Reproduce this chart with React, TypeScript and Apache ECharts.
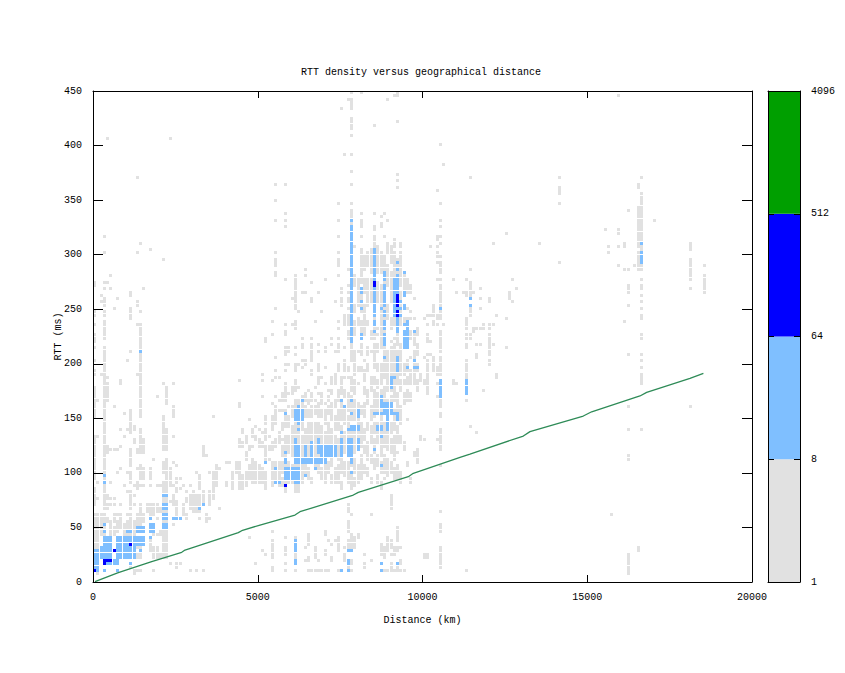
import React, { useEffect, useRef } from "react";
import * as echarts from "echarts";

const BIN_KM = 100;
const BIN_MS = 3;
const xTicks = [0, 5000, 10000, 15000, 20000];
const yTicks = [0, 50, 100, 150, 200, 250, 300, 350, 400, 450];
const barLabels = [1, 8, 64, 512, 4096];
const colors = { gray: "#e1e1e1", light: "#7fbfff", deep: "#0000ff", green: "#009f00", line: "#2e8b57" };

// [distance bin, "rtt bin spans"]
const grayCols: [number, string][] = [
  [0, "3-20 23-28 31-38 39-44 50-59 63-64 67 71 73-75 78 81-82 90-91"],[1, "2 5-20 25 30 44 55"],[2, "14-20 63 85 87"],
  [3, "8-20 22-26 27-29 31-35 36-44 45-46 47-49 50-62 63-66 67-71 74-79 81-82 84-86 89 91 100 105"],[4, "8-13 18-19 22-23 25-26 39-41 55-60 62 91 135"],[5, "10-17 18 23 25 30 40 89 93"],
  [6, "14-16 18-20 23 25 40 53 83"],[7, "15-18 20 33 40 86"],[8, "16-20 23 34 41 46 60-61"],[9, "14-17 29 44 51"],
  [10, "14-18 20 27 33 46 67"],[11, "4 14-20 22-27 30-33 35-40 45-46 47-52 70 80-83 87-88"],[12, "2-3 14-18 23 26 29 42-43 46-47"],
  [13, "3 7-8 10-12 17-20 28-30 34 39-40 63 78 84-85 100 123"],[14, "3 7-10 17-20 21-23 29 31-35 39-46 50-62 63-65 66-70 71-77 78 82 103"],
  [15, "18-20 29 31-34 39-43 89"],[16, "21-23"],[17, "9-13 15 20-23 29 31-34 101"],[18, "3 7-10 14 20 21-23 37"],
  [19, "7-10 14 19 21-23 29 56"],[20, "7-8 14-15 21-22 29"],[21, "7-30 33-36 40-50 60 98"],[22, "7-37 40-46 54-59"],[23, "5 24 29-34 135"],
  [24, "17 23-26 29 36 44 50-53 60"],[25, "4-5 20-24 27-28 30-31 35"],[26, "5 28 31"],[27, "20-23 29"],[28, "19-20 24-25 27"],[29, "3 22-26 29"],
  [30, "21-27"],[31, "3 21-26 33"],[32, "19 21-26 28-32"],[33, "3 23-27 38-41"],[34, "18-20 38"],[35, "19 23-27 33"],[36, "25-28 29-33 50"],
  [37, "29-35"],[38, "22 34"],[40, "29-30 36"],[41, "36"],[42, "28-33"],[43, "33-36"],[44, "28-29 30-36 41-43 53-54 61"],[45, "28-32 41-42 45-46"],
  [46, "29-33 37-39 42-44"],[47, "13 31-35 40-41 49"],[48, "30-37 41 44-46"],[49, "5 30-36 43-44 47"],[50, "30-35 41-43 46"],[51, "9 30-34 41-42 45 56 61 63"],
  [52, "8 28-33 37-41 43-46 48-50 73 74"],[53, "37 40-41 44"],[54, "3-4 7-12 15 29-36 40-42 46-50 54 61 75 79"],[55, "31-36 41-43 48-53 56 62 64 68 83 93-94 96-98 100 110 116 121"],
  [56, "29-36 42-45 52 55 62"],[57, "29-31 33-36 38-41 43 46-48 52 55-57"],[58, "3 5 8-10 13 27-44 47-52 55-60 64 66 69-71 75-76 78 92 108 110 112 121"],
  [59, "30-36 39-44 47-50 53 57 66 70 71"],[60, "30-35 38-47 50-53 57-59 78 86"],[61, "3 5-13 27-55 58-61 64-66 69 71 77-79 83 84-86 87-93"],[62, "27-37 39-47 49-55 59 66 82"],[63, "30-36 38-44 46-48 50-54 56 65 67 71-72 74 88"],
  [64, "6 10 32-46 50-53 55-57 66-67 88 93 95"],[65, "3 6-7 11-14 31-34 36-48 50-52 54-55 58"],[66, "3 30-31 36-48 50-53 55-57 63-64 67-69 70-72 74 85-86 91"],[67, "3 7-10 34-48 51-53 55 59 79"],[68, "3 6 33-36 38-48 50-54 57 60-62 64-66 70 72 88"],
  [69, "3 31-34 36-47 50-52 54-57 62 82"],[70, "3 8-9 14-15 30-35 38-45 48-52 54 60 65 70 71 92"],[71, "3 12 33-36 38-48 51-53 55-56 58"],[72, "6-7 11 30-32 35-37 39-46 49-54 57-58 60-62 72 74"],
  [73, "12 30-34 38-44 46-50 53-55 60-62 63 70 85"],[74, "3 9-13 30-35 37-43 46-52 55-58 64-66 70 71-72 74 77 79 93 96-98 100 105 110 115"],[75, "3 28-30 33-37 38-47 49-54 57-62 84-86 88 89 144"],
  [76, "6-8 10 32-36 39-45 48-53 56-58 62 64-67 78-79 80-81 71 130"],[77, "3-6 9-12 15-18 21-23 30-36 38-50 52-57 62 64-65 74-76 78-79 80-81 83 85-86 88 90 95 147"],
  [78, "3 5-6 9-14 20 28-33 35-47 49-56 58-62 67-72 72-76 76-111 112-113 115 121 125 130 136 138-141 144-147 149"],[79, "10-13 29-31 33-37 39-46 49-55 57-61 63-70 75-79 82-84 90-93 102"],
  [80, "13-14 30-35 40-45 47-54 60 64-65 70 78-80 84-92"],[81, "31-38 41-48 51-53 64-65 69 70-72 74-79 82-84 85-89 91-93 94-101 105 108-110 112 149"],[82, "4-5 8 33-35 39-41 43-46 50-54 57-59 61-64 67 75-84 88-92 95-99"],
  [83, "32-34 37-42 46-48 54-58 64-66 69-71 78-79 84-92 96-100"],[84, "6 20 30-31 36-38 42-47 49-53 58-60 61-62 70 74-76 85-92 94-101"],[85, "34-37 39-43 45-48 50-58 60-62 65-72 74-101 102-105 107-108 112 139"],
  [86, "30-32 35-38 42-48 51-57 59-61 64-66 70-72 75 77 85-91 94-102"],[87, "3 5 8-11 28-30 33-36 38-50 52-58 60-66 71-90 94-100 108-109 111"],[88, "3 7-10 31 33-38 41-48 51-59 62-73 76-84 86-99 105 112"],
  [89, "3 9-13 32-37 40-47 49-55 58-62 63-70 80-84 90-96 100-103 110 147"],[90, "3-5 8 10-12 22-26 33-36 39-43 45-48 51-56 58-62 63-71 73 77-80 85-94 97-102"],[91, "3 8-10 31-34 37-44 46-52 55-62 63-72 74 78-90 92-100 102-104 148"],
  [92, "3-5 9-10 12-16 31-35 39 42-47 50-57 60-70 72-80 81-98 120 122 124 140 148-149"],[93, "3 5-6 10 30-33 42-44 48-53 58-61 63-72 78-88 90-100 102-103"],[94, "3 40-42 54-57 60-61 63-66 71-76 78-80 87-93"],[95, "35-36 49 55-58 60-62 64-67 71-80 83 88-92"],
  [96, "30-31 55-57 60-64 68 74-76 80 82 88-90"],[97, "38-39 60-64 66-70 72-75 80 86"],[98, "36-40 58-61 64-66 69-72 75-77"],[99, "43-44 61-63"],[100, "7-8 43 60-61 68 80"],[101, "7-8 57-67 69 73-75 78 81"],[102, "69 73 81 102"],
  [103, "64-68 78-79 81-84"],[104, "43 56 60 63-65 78 80-81 92 97 99-100 102 104-105 119"],[105, "4-10 15-17 21 35 40-41 42-45 46 50-51 53-54 55-61 63-65 66-68 70-73 74 75-76 80-82 84-86 87-90 92 94-97 99 103 105 108 110 115 133"],[106, "78 127"],
  [109, "60-61 92"],[110, "60 88"],[112, "88"],[113, "3 55 57-63 64-67 71 72 74-75 77-80 87-88 92"],[114, "47 74-75 81-83 87-88 89-91 95 123"],[115, "76-77 88"],[116, "45 68-69 72 77"],[117, "72 77 83 86 89"],[118, "58 77-78"],
  [120, "66 67 69 70-72 73-75 77-78 85-86"],[121, "72 78 103"],[122, "62 63 81"],[125, "71 80 106"],[126, "86-88"],[127, "85 92"],[128, "89"],[135, "103"],[141, "97 115 118-120 123"],
  [155, "107"],[156, "100 102"],[157, "20"],[159, "96 102 106-107 148"],[161, "79 95 102-103"],[162, "2-8 37-38 46 53 69 84 88-90 95 113"],[164, "96"],
  [165, "9-10 95-97 98-100 102-104 105-107 108-111 112-114 120-121"],[166, "46 60-63 65 67 69 74-75 80-81 83 85 87 89-90 92 95-107 108-118 123"],[170, "110"],
  [181, "53 89 92-93 94-97 98 101-103"],[185, "88-90 91-93 96"],
];

// ["distance bin or range", "rtt bin spans"]
const lightCols: [string, string][] = [
  ["0-1", "3 4-9"],["2-5", "7-10"],["3-5", "5 11-13"],["6-7", "5-6"],["7", "3"],["3", "3 15 17 30 32"],["7-9", "7-13"],["10-12", "7-10 11-13"],["10", "15"],["11", "5 15"],
  ["13-15", "11-13 15-16"],["14", "9 70"],["17", "13 19"],["17-18", "15-17"],["21-22", "16-17 19-20 22-23 26"],["24", "19"],["25-26", "19"],["32", "22"],["33", "23"],
  ["52", "36"],["55", "34"],["55-56", "30"],["61-62", "30 31-34 38-41"],["58-60", "31-34"],["58", "36-37 39 51"],["61-63", "36-37 49-52"],["64-66", "36-37"],["67-70", "36-37"],
  ["61", "42-43 5-6 9-10 11-12"],["62", "46 48 53"],["64", "32 38-41"],["66", "38-42"],["68", "39-43"],["69-73", "38-41"],["75", "38-43 45 55 3"],["77", "38-43 46 5-6 3 9"],["78", "33 36-43 46-47 51 55 9"],
  ["79-80", "46-47"],["80", "40-43 50-52"],["63", "55"],["76", "53"],["85-91", "51"],["87", "44 35 53-56 3 5"],["88-90", "52-54"],["89", "46-51"],["86-87", "46-47"],["92", "49-51 5"],["85", "40"],["67", "34"],
  ["90", "59-62"],["105", "56-61 83"],["78", "73 74-76 77-79 80-84 84-87 87-90 91-94 94-98 98-101 101-105 105-108 110"],
  ["85", "76 78-79 81-83 84-86 87-89 92-93 94-98 98-101"],["88", "68 72-73 74-75 77-79 81-82 84-87 87-90 92-94"],["91-92", "81-82 84-87 87-90 91-92"],["92", "64-68 76-80 92-93 95 97"],
  ["93", "81 85"],["94", "71-76 78 84 87-88 94"],["91-94", "83"],["95", "65 71-76 77-79"],["97", "65 67 76"],["98", "65"],["81", "74-75 83 85 88-89"],["87", "83"],
  ["90", "60-62"],["91", "62"],["113", "57-61"],["114", "84 86"],["166", "98-100 97 103"],
];

const deepCols: [string, string][] = [
  ["0", "3"],["3", "5"],["3-5", "6"],["6", "9"],["11", "11"],["58", "29"],["85", "90-91"],["92", "84-87 81-82"],
];

const distanceKm = [60, 768, 1781, 2692, 2792, 4410, 4513, 5068, 6130, 6282, 7900, 8052, 9569, 9721, 11138, 11441, 13060, 13262, 14880, 15134, 16600, 16803, 18118, 18525];
const medianRtt = [0.3, 8.5, 18.6, 27.2, 29.3, 45.2, 47, 52.2, 61.4, 64.4, 79.7, 82.2, 96.5, 99.6, 114.3, 117.3, 133.8, 137.8, 152.1, 156, 170.5, 173.8, 186.7, 191.3];

const barBands = [
  { from: 0, to: 3, color: colors.gray },
  { from: 3, to: 6, color: colors.light },
  { from: 6, to: 9, color: colors.deep },
  { from: 9, to: 12, color: colors.green },
];

function spans(spec: string): number[] {
  const out: number[] = [];
  spec.split(" ").forEach((part) => {
    const [a, b] = part.split("-").map(Number);
    for (let r = a; r <= (b ?? a); r++) out.push(r);
  });
  return out;
}

function cells(cols: [number | string, string][]): number[][] {
  const seen = new Set<string>();
  const out: number[][] = [];
  cols.forEach(([c, spec]) => {
    spans(String(c)).forEach((col) => {
      spans(spec).forEach((r) => {
        const key = col + ":" + r;
        if (!seen.has(key)) {
          seen.add(key);
          out.push([col * BIN_KM, r * BIN_MS]);
        }
      });
    });
  });
  return out;
}

function densitySeries(name: string, data: number[][], color: string) {
  return {
    type: "custom",
    name,
    xAxisIndex: 0,
    yAxisIndex: 0,
    data,
    progressive: 0,
    silent: true,
    renderItem: (_: any, api: any) => {
      const p = api.coord([api.value(0), api.value(1) + BIN_MS]);
      return {
        type: "rect",
        shape: { x: Math.round(p[0]), y: Math.round(p[1]), width: 3, height: 3 },
        style: { fill: color },
      };
    },
  };
}

const font = { fontFamily: "Liberation Mono", fontSize: 10, color: "#000" };
const black = { lineStyle: { color: "#000", width: 1 } };

export default function App() {
  const ref = useRef<HTMLDivElement>(null);
  useEffect(() => {
    const chart = echarts.init(ref.current!, undefined, { renderer: "svg" });
    chart.setOption({
      animation: false,
      backgroundColor: "#fff",
      title: {
        text: "RTT density versus geographical distance",
        left: 416,
        top: 62,
        textAlign: "center",
        textStyle: { ...font, fontWeight: "normal" },
      },
      grid: [
        { left: 93, top: 91, width: 659, height: 491 },
        { left: 768, top: 91, width: 32, height: 491 },
      ],
      xAxis: [
        {
          type: "value", gridIndex: 0, min: 0, max: 20000, interval: 5000, position: "bottom", z: 10,
          name: "Distance (km)", nameLocation: "middle", nameGap: 33, nameMoveOverlap: false, nameTextStyle: font,
          axisLine: { show: true, onZero: false, ...black },
          axisTick: { show: true, inside: true, length: 7, ...black },
          axisLabel: { ...font, margin: 10, showMinLabel: true, showMaxLabel: true, formatter: (v: number) => (xTicks.includes(v) ? String(v) : "") },
          splitLine: { show: false },
        },
        {
          type: "value", gridIndex: 0, min: 0, max: 20000, interval: 5000, position: "top", z: 10,
          axisLine: { show: true, onZero: false, ...black },
          axisTick: { show: true, inside: true, length: 7, ...black },
          axisLabel: { show: false }, splitLine: { show: false },
        },
        {
          type: "value", gridIndex: 1, min: 0, max: 1, position: "bottom", z: 10,
          axisLine: { show: true, onZero: false, ...black },
          axisTick: { show: false }, axisLabel: { show: false }, splitLine: { show: false },
        },
        {
          type: "value", gridIndex: 1, min: 0, max: 1, position: "top", z: 10,
          axisLine: { show: true, onZero: false, ...black },
          axisTick: { show: false }, axisLabel: { show: false }, splitLine: { show: false },
        },
      ],
      yAxis: [
        {
          type: "value", gridIndex: 0, min: 0, max: 450, interval: 50, position: "left", z: 10,
          name: "RTT (ms)", nameLocation: "middle", nameGap: 30, nameMoveOverlap: false, nameTextStyle: font,
          axisLine: { show: true, onZero: false, ...black },
          axisTick: { show: true, inside: true, length: 10, ...black },
          axisLabel: { ...font, margin: 11, formatter: (v: number) => (yTicks.includes(v) ? String(v) : "") },
          splitLine: { show: false },
        },
        {
          type: "value", gridIndex: 0, min: 0, max: 450, interval: 50, position: "right", z: 10,
          axisLine: { show: true, onZero: false, ...black },
          axisTick: { show: true, inside: true, length: 10, ...black },
          axisLabel: { show: false }, splitLine: { show: false },
        },
        {
          type: "value", gridIndex: 1, min: 0, max: 12, interval: 3, position: "right", z: 10,
          axisLine: { show: true, onZero: false, ...black },
          axisTick: { show: true, inside: true, length: 6, ...black },
          axisLabel: { ...font, margin: 11, formatter: (v: number) => String(barLabels[v / 3]) },
          splitLine: { show: false },
        },
        {
          type: "value", gridIndex: 1, min: 0, max: 12, interval: 3, position: "left", z: 10,
          axisLine: { show: true, onZero: false, ...black },
          axisTick: { show: true, inside: true, length: 6, ...black },
          axisLabel: { show: false }, splitLine: { show: false },
        },
      ],
      series: [
        densitySeries("1-8", cells(grayCols), colors.gray),
        densitySeries("8-64", cells(lightCols), colors.light),
        densitySeries("64-512", cells(deepCols), colors.deep),
        {
          type: "line", name: "median", xAxisIndex: 0, yAxisIndex: 0,
          data: distanceKm.map((d, i) => [d, medianRtt[i]]),
          showSymbol: false, silent: true, z: 4,
          lineStyle: { color: colors.line, width: 1.3 },
        },
        {
          type: "custom", name: "scale", xAxisIndex: 2, yAxisIndex: 2,
          data: barBands.map((b, i) => [b.from, b.to, i]),
          silent: true, z: 1,
          renderItem: (_: any, api: any) => {
            const band = barBands[api.value(2)];
            const a = api.coord([0, api.value(1)]);
            const b = api.coord([1, api.value(0)]);
            return {
              type: "rect",
              shape: { x: a[0], y: a[1], width: b[0] - a[0], height: b[1] - a[1] },
              style: { fill: band.color },
            };
          },
        },
      ],
    });
    return () => chart.dispose();
  }, []);
  return <div ref={ref} style={{ position: "absolute", left: 0, top: 0, width: 845, height: 673 }} />;
}
